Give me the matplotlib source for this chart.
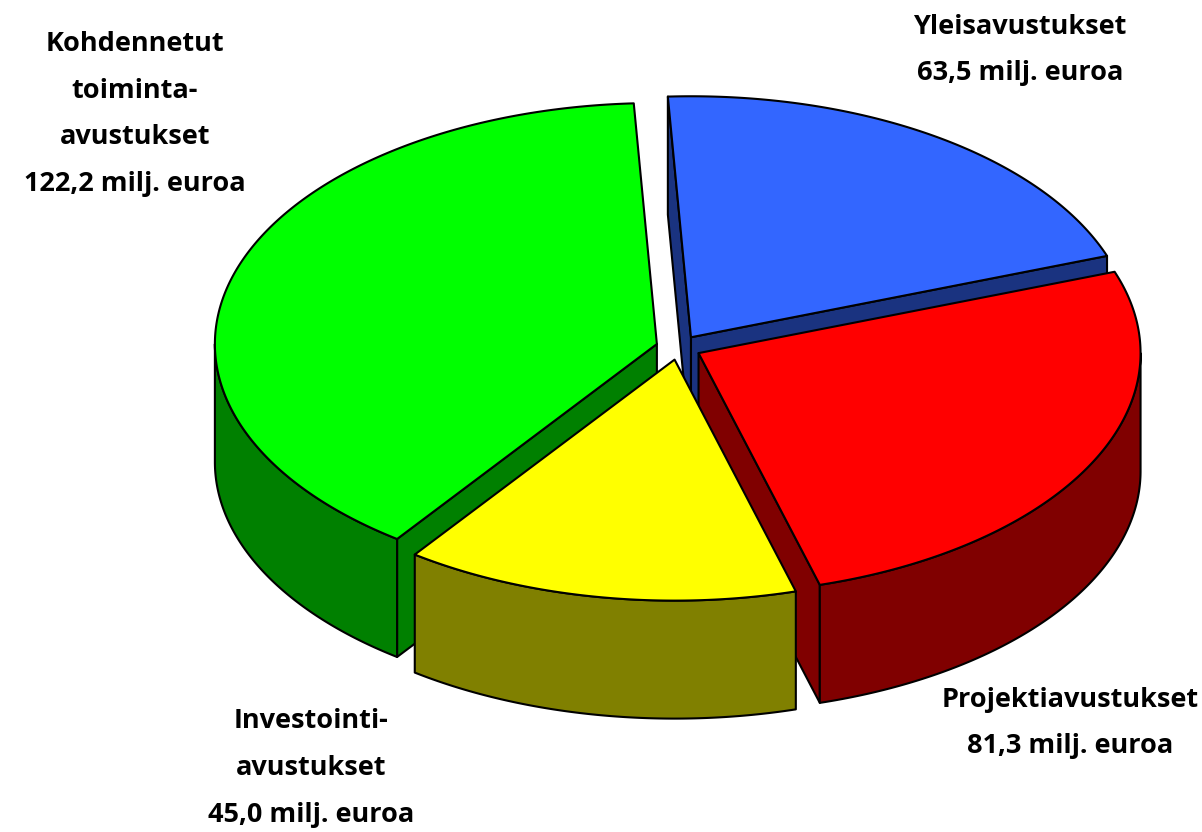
"""
Valtionavustukset: exploded 3D-look pie, built from polygons in pixel-like axes.
"""

import matplotlib

matplotlib.use("Agg")
import matplotlib.pyplot as plt
import numpy as np
from matplotlib.patches import Polygon

labels = [
    "Yleisavustukset\n63,5 milj. euroa",
    "Projektiavustukset\n81,3 milj. euroa",
    "Investointi-\navustukset\n45,0 milj. euroa",
    "Kohdennetut\ntoiminta-\navustukset\n122,2 milj. euroa",
]
values = [63.5, 81.3, 45.0, 122.2]
top_colors = ["#3366FF", "#FF0000", "#FFFF00", "#00FF00"]
side_colors = ["#1A3380", "#800000", "#808000", "#008000"]
label_pos = [(1020, 50), (1070, 723), (311, 768), (135, 114)]
draw_order = [0, 3, 1, 2]

CX, CY = 678.5, 347.5
RX, RY = 442, 241
DEPTH = 118
EXPLODE = 0.051
START_ANGLE = -3
EDGE = {"edgecolor": "black", "linewidth": 1.5, "joinstyle": "round"}


def ellipse_xy(cx, cy, angles):
    rad = np.radians(angles)
    return np.column_stack([cx + RX * np.sin(rad), cy - RY * np.cos(rad)])


def draw_slice(ax, t0, t1, top_color, side_color):
    mid = np.radians((t0 + t1) / 2)
    cx = CX + EXPLODE * RX * np.sin(mid)
    cy = CY - EXPLODE * RY * np.cos(mid)
    drop = np.array([0, DEPTH])
    apex = np.array([cx, cy])
    arc = ellipse_xy(cx, cy, np.linspace(t0, t1, 200))

    # Radial walls, only the ones turned towards the viewer
    if np.sin(np.radians(t0)) < 0:
        ax.add_patch(Polygon([apex, arc[0], arc[0] + drop, apex + drop], facecolor=side_color, **EDGE))
    if np.sin(np.radians(t1)) > 0:
        ax.add_patch(Polygon([apex, arc[-1], arc[-1] + drop, apex + drop], facecolor=side_color, **EDGE))

    # Outer wall only where the rim faces the viewer
    lo, hi = max(t0, 90), min(t1, 270)
    if lo < hi:
        wall = ellipse_xy(cx, cy, np.linspace(lo, hi, 200))
        ax.add_patch(Polygon(np.vstack([wall, wall[::-1] + drop]), facecolor=side_color, **EDGE))

    ax.add_patch(Polygon(np.vstack([apex, arc]), facecolor=top_color, **EDGE))


fig = plt.figure(figsize=(12.02, 8.32), dpi=100)
ax = fig.add_axes([0, 0, 1, 1])
ax.set_xlim(0, 1202)
ax.set_ylim(832, 0)
ax.axis("off")

edges = START_ANGLE + np.concatenate([[0], np.cumsum(values)]) / sum(values) * 360
for i in draw_order:
    draw_slice(ax, edges[i], edges[i + 1], top_colors[i], side_colors[i])

for text, (x, y) in zip(labels, label_pos):
    ax.text(
        x,
        y,
        text,
        ha="center",
        va="center",
        fontsize=19.5,
        fontweight="bold",
        family="Open Sans",
        linespacing=2.03,
        color="black",
    )

fig.savefig("out.png", dpi=100)
